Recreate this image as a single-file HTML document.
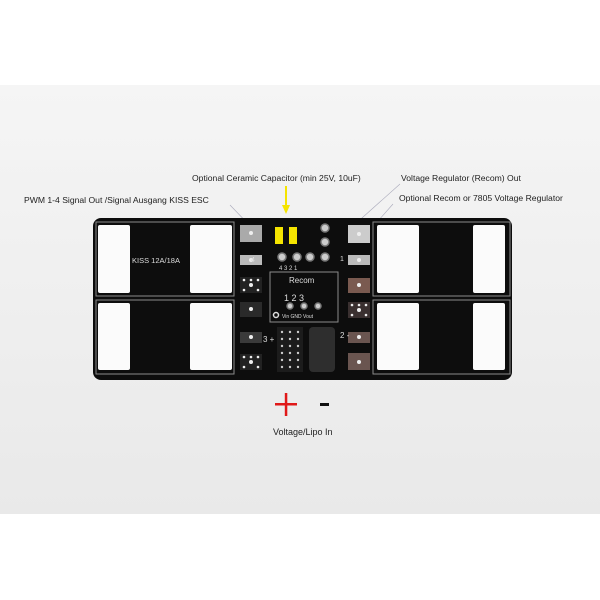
<!DOCTYPE html>
<html><head><meta charset="utf-8"><style>
html,body{margin:0;padding:0;background:#fff}
svg{display:block}
text{font-family:"Liberation Sans",sans-serif}
</style></head><body>
<svg width="600" height="600" viewBox="0 0 600 600" xmlns="http://www.w3.org/2000/svg">
<defs>
<linearGradient id="bg" x1="0" y1="0" x2="0" y2="1">
<stop offset="0" stop-color="#f5f5f5"/><stop offset="1" stop-color="#e9e9e9"/>
</linearGradient>
</defs>
<rect width="600" height="600" fill="#fff"/>
<rect x="0" y="85" width="600" height="429" fill="url(#bg)"/>

<!-- labels -->
<g font-size="8.6" fill="#222">
<text x="192" y="181">Optional Ceramic Capacitor (min 25V, 10uF)</text>
<text x="401" y="181">Voltage Regulator (Recom)  Out</text>
<text x="399" y="201">Optional Recom or 7805 Voltage Regulator</text>
<text x="24" y="203">PWM 1-4 Signal Out /Signal Ausgang KISS ESC</text>
<text x="273" y="435" font-size="9">Voltage/Lipo In</text>
</g>
<g stroke="#aab" stroke-width="0.6" fill="none">
<line x1="230" y1="205" x2="276" y2="253"/>
<line x1="400" y1="184" x2="353" y2="226"/>
<line x1="393" y1="204" x2="317" y2="290"/>
</g>
<!-- arrow -->
<line x1="286" y1="186" x2="286" y2="208" stroke="#f5e400" stroke-width="2"/>
<polygon points="282,205 290,205 286,214" fill="#f5e400"/>

<!-- board -->
<rect x="93" y="218" width="419" height="162" rx="8" fill="#0d0d0d"/>
<g stroke="#8a8a8a" stroke-width="1" fill="none">
<rect x="96" y="222" width="138" height="74"/>
<rect x="96" y="300" width="138" height="74"/>
<rect x="373" y="222" width="137" height="74"/>
<rect x="373" y="300" width="137" height="74"/>
<rect x="270" y="272" width="68" height="50"/>
</g>
<g fill="#fbfbfb">
<rect x="98" y="225" width="32" height="68" rx="2"/>
<rect x="190" y="225" width="42" height="68" rx="2"/>
<rect x="98" y="303" width="32" height="67" rx="2"/>
<rect x="190" y="303" width="42" height="67" rx="2"/>
<rect x="377" y="225" width="42" height="68" rx="2"/>
<rect x="473" y="225" width="32" height="68" rx="2"/>
<rect x="377" y="303" width="42" height="67" rx="2"/>
<rect x="473" y="303" width="32" height="67" rx="2"/>
</g>
<text x="132" y="263" font-size="7.5" fill="#ddd">KISS 12A/18A</text>

<!-- left pads -->
<g>
<rect x="240" y="225" width="22" height="17" fill="#aaa"/>
<rect x="240" y="255" width="22" height="10" fill="#bbb"/>
<rect x="240" y="277" width="22" height="16" fill="#222"/>
<rect x="240" y="302" width="22" height="15" fill="#2a2a2a"/>
<rect x="240" y="332" width="22" height="11" fill="#3a3a3a"/>
<rect x="240" y="354" width="22" height="16" fill="#222"/>
</g>
<g fill="#eee">
<circle cx="251" cy="233" r="2"/><circle cx="251" cy="260" r="2"/><circle cx="251" cy="309" r="2"/><circle cx="251" cy="337" r="2"/>
<circle cx="244" cy="280" r="1.3"/><circle cx="251" cy="280" r="1.3"/><circle cx="258" cy="280" r="1.3"/><circle cx="251" cy="285" r="2"/><circle cx="244" cy="290" r="1.3"/><circle cx="258" cy="290" r="1.3"/>
<circle cx="244" cy="357" r="1.3"/><circle cx="251" cy="357" r="1.3"/><circle cx="258" cy="357" r="1.3"/><circle cx="251" cy="362" r="2"/><circle cx="244" cy="367" r="1.3"/><circle cx="258" cy="367" r="1.3"/>
</g>
<!-- right pads -->
<g>
<rect x="348" y="225" width="22" height="18" fill="#ccc"/>
<rect x="348" y="255" width="22" height="10" fill="#bbb"/>
<rect x="348" y="278" width="22" height="15" fill="#7a5a50"/>
<rect x="348" y="302" width="22" height="16" fill="#3a3030"/>
<rect x="348" y="332" width="22" height="11" fill="#6a5550"/>
<rect x="348" y="353" width="22" height="17" fill="#6a5550"/>
</g>
<g fill="#eee">
<circle cx="359" cy="234" r="2"/><circle cx="359" cy="260" r="2"/><circle cx="359" cy="285" r="2"/><circle cx="359" cy="337" r="2"/><circle cx="359" cy="362" r="2"/>
<circle cx="352" cy="305" r="1.3"/><circle cx="359" cy="305" r="1.3"/><circle cx="366" cy="305" r="1.3"/><circle cx="359" cy="310" r="2"/><circle cx="352" cy="315" r="1.3"/><circle cx="366" cy="315" r="1.3"/>
</g>
<!-- caps -->
<rect x="275" y="227" width="8" height="17" fill="#f5e400"/>
<rect x="289" y="227" width="8" height="17" fill="#f5e400"/>
<!-- holes -->
<g fill="#ccc" stroke="#777" stroke-width="1.5">
<circle cx="282" cy="257" r="4"/><circle cx="297" cy="257" r="4"/><circle cx="310" cy="257" r="4"/><circle cx="325" cy="257" r="4"/>
<circle cx="325" cy="228" r="4"/><circle cx="325" cy="242" r="4"/>
<circle cx="290" cy="306" r="3"/><circle cx="304" cy="306" r="3"/><circle cx="318" cy="306" r="3"/>
</g>
<circle cx="276" cy="315" r="2.5" fill="none" stroke="#ddd" stroke-width="1.5"/>
<g fill="#ddd" font-family="Liberation Mono,monospace">
<text x="289" y="283" font-size="8">Recom</text>
<text x="284" y="301" font-size="9">1 2 3</text>
<text x="282" y="318" font-size="5">Vin GND Vout</text>
<text x="279" y="270" font-size="6">4 3 2 1</text>
<text x="251" y="262" font-size="7">4</text>
<text x="340" y="261" font-size="7">1</text>
<text x="263" y="342" font-size="8">3 +</text>
<text x="340" y="338" font-size="8">2 -</text>
</g>
<!-- pin block & black part -->
<rect x="277" y="327" width="26" height="45" fill="#1c1c1c"/>
<g fill="#ccc">
<circle cx="282" cy="332" r="1.2"/><circle cx="290" cy="332" r="1.2"/><circle cx="298" cy="332" r="1.2"/>
<circle cx="282" cy="339" r="1.2"/><circle cx="290" cy="339" r="1.2"/><circle cx="298" cy="339" r="1.2"/>
<circle cx="282" cy="346" r="1.2"/><circle cx="290" cy="346" r="1.2"/><circle cx="298" cy="346" r="1.2"/>
<circle cx="282" cy="353" r="1.2"/><circle cx="290" cy="353" r="1.2"/><circle cx="298" cy="353" r="1.2"/>
<circle cx="282" cy="360" r="1.2"/><circle cx="290" cy="360" r="1.2"/><circle cx="298" cy="360" r="1.2"/>
<circle cx="282" cy="367" r="1.2"/><circle cx="290" cy="367" r="1.2"/><circle cx="298" cy="367" r="1.2"/>
</g>
<rect x="309" y="327" width="26" height="45" rx="4" fill="#2e2e2e"/>

<!-- plus / minus -->
<rect x="275" y="403" width="22" height="2.5" fill="#e01818"/>
<rect x="284.8" y="393" width="2.5" height="23" fill="#e01818"/>
<rect x="320" y="403" width="9" height="3" fill="#111"/>
</svg>
</body></html>
